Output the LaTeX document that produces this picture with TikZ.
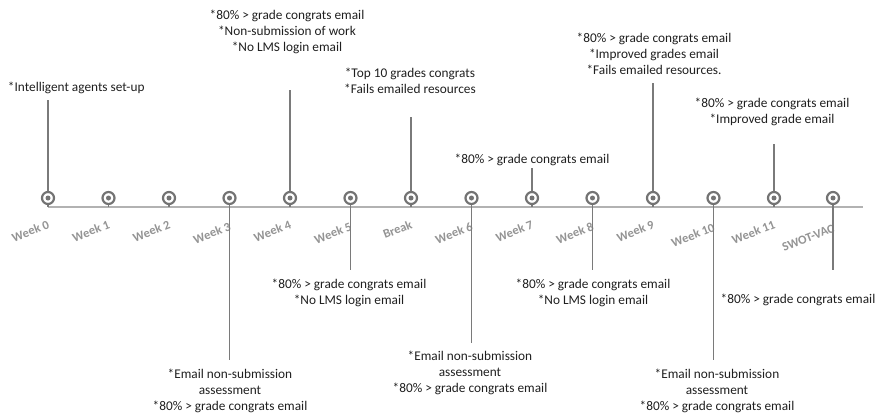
\documentclass[tikz,border=0pt]{standalone}
\usepackage{fontspec}
\usepackage{graphicx}
\setmainfont{Carlito}
\begin{document}
\begin{tikzpicture}[x=1pt,y=-1pt,
  every node/.style={inner sep=0pt,outer sep=0pt},
  note/.style={align=center,text=black!88,font=\fontsize{13.3}{16}\selectfont},
  wklabel/.style={anchor=north east,text=black!42,font=\fontsize{12.5}{14}\selectfont\bfseries},
  stem/.style={draw=black!52,line width=1.4pt},
  axisline/.style={draw=black!30,line width=1.6pt},
  ring/.style={circle,draw=black!55,line width=2.2pt,fill=white,minimum size=12pt},
  dot/.style={circle,fill=black!55,minimum size=5pt}
]
\useasboundingbox (0,0) rectangle (884,415);

% timeline axis
\coordinate (axL) at (48,207);
\coordinate (axR) at (863,207);
\draw[axisline] (axL) -- (axR);

% week markers and their slanted labels
\foreach \n/\x/\dy/\lab in {w0/48/0/Week 0, w1/108.5/0/Week 1, w2/169/0/Week 2, w3/229.5/2/Week 3,
  w4/290/0/Week 4, w5/350.5/2/Week 5, br/411/0/Break, w6/471.5/2/Week 6, w7/532/0/Week 7,
  w8/592.5/2/Week 8, w9/653/0/Week 9, w10/713.5/3/Week 10, w11/774/0/Week 11, sv/833/4/SWOT-VAC}{
  \coordinate (\n) at (\x,198);
  \coordinate (\n-b) at (\x,207);
  \node[wklabel] (\n-l) at (\x+2,220+\dy) {\rotatebox{21}{\lab}};
}

% stems above the axis
\coordinate (t0) at (48,100);
\coordinate (t4) at (290,90);
\coordinate (tb) at (411,117);
\coordinate (t7) at (532,168);
\coordinate (t9) at (653,83);
\coordinate (t11) at (774,144);
\foreach \a/\b in {t0/w0,t4/w4,tb/br,t7/w7,t9/w9,t11/w11}{\draw[stem] (\a) -- (\b);}

% stems below the axis
\coordinate (d3) at (229.5,360);
\coordinate (d5) at (350.5,270);
\coordinate (d6) at (471.5,343);
\coordinate (d8) at (592.5,270);
\coordinate (d10) at (713.5,360);
\coordinate (dsv) at (833,270);
\foreach \a/\b in {w3/d3,w5/d5,w6/d6,w8/d8,w10/d10,sv/dsv}{\draw[stem] (\a) -- (\b);}

% short ticks from the remaining markers to the axis
\foreach \n in {w0,w1,w2,w4,br,w7,w9,w11}{\draw[stem] (\n) -- (\n-b);}

% target markers
\foreach \n in {w0,w1,w2,w3,w4,w5,br,w6,w7,w8,w9,w10,w11,sv}{
  \node[ring] (\n-r) at (\n) {};
  \node[dot] (\n-d) at (\n) {};
}

% annotations above
\node[note,anchor=west] (n0) at (8,88) {*Intelligent agents set-up};
\node[note] (n4) at (287,32) {*80\% > grade congrats email\\*Non-submission of work\\*No LMS login email};
\node[note] (nb) at (410,81) {*Top 10 grades congrats\\*Fails emailed resources};
\node[note] (n7) at (532,160) {*80\% > grade congrats email};
\node[note] (n9) at (654,54) {*80\% > grade congrats email\\*Improved grades email\\*Fails emailed resources.};
\node[note] (n11) at (772,112) {*80\% > grade congrats email\\*Improved grade email};

% annotations below
\node[note] (n3) at (230,391) {*Email non-submission\\assessment\\*80\% > grade congrats email};
\node[note] (n5) at (349,293) {*80\% > grade congrats email\\*No LMS login email};
\node[note] (n6) at (470,373) {*Email non-submission\\assessment\\*80\% > grade congrats email};
\node[note] (n8) at (593,293) {*80\% > grade congrats email\\*No LMS login email};
\node[note] (n10) at (717,391) {*Email non-submission\\assessment\\*80\% > grade congrats email};
\node[note] (nsv) at (798,300) {*80\% > grade congrats email};
\end{tikzpicture}
\end{document}
